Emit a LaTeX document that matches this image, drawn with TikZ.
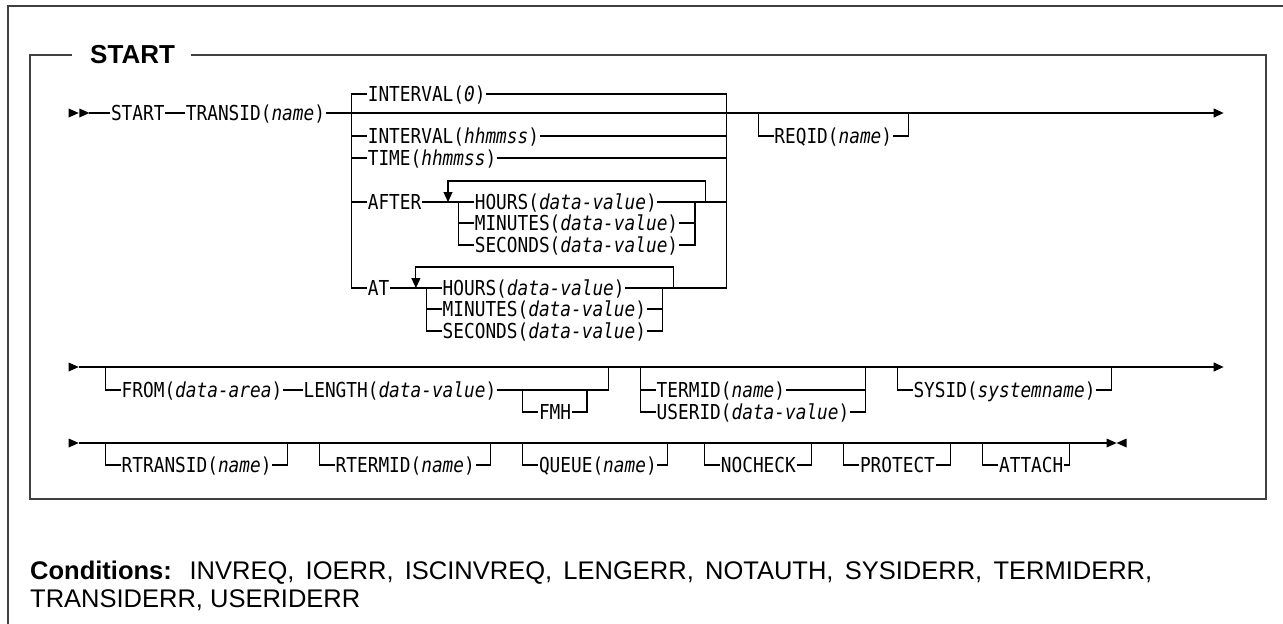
\documentclass[tikz,border=0pt]{standalone}
\usepackage{fontspec}
\setmainfont{Liberation Sans}
\newfontfamily\synfont[FakeStretch=0.863]{DejaVu Sans Mono}
\usetikzlibrary{arrows.meta}

\tikzset{
  syn/.style={font=\synfont\fontsize{20.6}{22}\selectfont, inner xsep=0.5pt, inner ysep=0pt,
    text height=15pt, text depth=0pt, anchor=west},
  rail/.style={line width=1.1pt},
  railend/.style={rail, -{Triangle[length=10pt,width=9pt]}},
  railloop/.style={rail, -{Triangle[length=10pt,width=9pt]}},
  frame/.style={line width=1.6pt, draw=black!75},
  tri r/.pic={\fill (0,0) -- (-10,-4.5) -- (-10,4.5) -- cycle;},
  tri l/.pic={\fill (0,0) -- (10,-4.5) -- (10,4.5) -- cycle;}
}

\begin{document}
\begin{tikzpicture}[x=1pt,y=-1pt]
 \useasboundingbox (0,0) rectangle (1283,624);
 \draw[frame] (8,624) -- (8,6) -- (1283,6);
 \node[font=\bfseries\fontsize{26}{30}\selectfont, inner sep=0pt, anchor=west] (ttl) at (90,55) {START};
 \draw[frame] ([xshift=-18pt]ttl.west) -- (30,55) -- (30,499) -- (1266,499) -- (1266,55) -- ([xshift=16pt]ttl.east);

 \pic at (78.7,113) {tri r};
 \pic at (89.4,113) {tri r};
 \coordinate (in1) at (89.4,113);
 \coordinate (out1) at (1223.6,113);
 \node[syn] (start) at (110.3,113) {START};
 \node[syn] (transid) at (185.2,113) {TRANSID(\textit{name})};
 \draw[rail] (in1) -- (start.west);
 \draw[rail] (start.east) -- (transid.west);
 \draw[railend] (transid.east) -- (out1);

 \coordinate (bxl) at (351.6,94);
 \coordinate (bxr) at (726.9,94);
 \node[syn] (int0) at (367.1,94) {INTERVAL(\textit{0})};
 \node[syn] (inthms) at (367.1,136) {INTERVAL(\textit{hhmmss})};
 \node[syn] (time) at (367.1,158) {TIME(\textit{hhmmss})};
 \node[syn] (aft) at (367.1,202) {AFTER};
 \node[syn] (atw) at (367.1,288) {AT};
 \draw[rail] (int0.west) -- (bxl) |- (atw.west);
 \draw[rail] (int0.east) -- (bxr) -- (bxr |- atw.west);
 \draw[rail] (inthms.west -| bxl) -- (inthms.west) (inthms.east) -- (inthms.east -| bxr);
 \draw[rail] (time.west -| bxl) -- (time.west) (time.east) -- (time.east -| bxr);
 \draw[rail] (aft.west -| bxl) -- (aft.west);

 \node[syn] (ahrs) at (474.1,202) {HOURS(\textit{data-value})};
 \node[syn] (amin) at (474.1,223) {MINUTES(\textit{data-value})};
 \node[syn] (asec) at (474.1,245) {SECONDS(\textit{data-value})};
 \coordinate (ail) at (458.7,202);
 \coordinate (air) at (695,202);
 \coordinate (alpl) at (448,181);
 \coordinate (alpr) at (705.7,181);
 \draw[rail] (aft.east) -- (ahrs.west);
 \draw[rail] (ahrs.east) -- (ahrs.east -| bxr);
 \draw[rail] (ail) |- (asec.west) (amin.west -| ail) -- (amin.west);
 \draw[rail] (asec.east) -| (air) (amin.east) -- (amin.east -| air);
 \draw[railloop] (alpr |- ahrs.east) -- (alpr) -- (alpl) -- (alpl |- ahrs.west);

 \node[syn] (thrs) at (442,288) {HOURS(\textit{data-value})};
 \node[syn] (tmin) at (442,309) {MINUTES(\textit{data-value})};
 \node[syn] (tsec) at (442,331) {SECONDS(\textit{data-value})};
 \coordinate (til) at (426.6,288);
 \coordinate (tir) at (662.9,288);
 \coordinate (tlpl) at (415.9,267);
 \coordinate (tlpr) at (673.6,267);
 \draw[rail] (atw.east) -- (thrs.west);
 \draw[rail] (thrs.east) -- (thrs.east -| bxr);
 \draw[rail] (til) |- (tsec.west) (tmin.west -| til) -- (tmin.west);
 \draw[rail] (tsec.east) -| (tir) (tmin.east) -- (tmin.east -| tir);
 \draw[railloop] (tlpr |- thrs.east) -- (tlpr) -- (tlpl) -- (tlpl |- thrs.west);

 \node[syn] (reqid) at (773.7,136) {REQID(\textit{name})};
 \coordinate (rql) at (758.2,113);
 \coordinate (rqr) at (908.7,113);
 \draw[rail] (rql) |- (reqid.west) (reqid.east) -| (rqr);

 \pic at (78.7,367) {tri r};
 \coordinate (in2) at (78.7,367);
 \coordinate (out2) at (1223.6,367);
 \draw[railend] (in2) -- (out2);
 \node[syn] (from) at (121,390) {FROM(\textit{data-area})};
 \node[syn] (lng) at (302.9,390) {LENGTH(\textit{data-value})};
 \node[syn] (fmh) at (538.3,412) {FMH};
 \coordinate (frl) at (105.5,367);
 \coordinate (frr) at (608.4,367);
 \coordinate (fml) at (522.8,390);
 \coordinate (fmr) at (587,390);
 \draw[rail] (frl) |- (from.west) (from.east) -- (lng.west) (lng.east) -| (frr);
 \draw[rail] (fml) |- (fmh.west) (fmh.east) -| (fmr);
 \node[syn] (termid) at (656,390) {TERMID(\textit{name})};
 \node[syn] (userid) at (656,412) {USERID(\textit{data-value})};
 \coordinate (tml) at (640.5,367);
 \coordinate (tmr) at (865.2,367);
 \draw[rail] (tml) |- (userid.west) (termid.west -| tml) -- (termid.west);
 \draw[rail] (userid.east) -| (tmr) (termid.east) -- (termid.east -| tmr);
 \node[syn] (sysid) at (912.8,390) {SYSID(\textit{systemname})};
 \coordinate (syl) at (897.3,367);
 \coordinate (syr) at (1111.2,367);
 \draw[rail] (syl) |- (sysid.west) (sysid.east) -| (syr);

 \pic at (78.7,443) {tri r};
 \coordinate (in3) at (78.7,443);
 \coordinate (out3) at (1106.6,443);
 \draw[rail] (in3) -- (out3);
 \pic at (1116.6,443) {tri r};
 \pic at (1116.6,443) {tri l};
 \node[syn] (rtransid) at (121,465) {RTRANSID(\textit{name})};
 \coordinate (rtl) at (105.5,443);
 \coordinate (rtr) at (287.4,443);
 \draw[rail] (rtl) |- (rtransid.west) (rtransid.east) -| (rtr);
 \node[syn] (rtermid) at (335,465) {RTERMID(\textit{name})};
 \coordinate (rml) at (319.5,443);
 \coordinate (rmr) at (490.7,443);
 \draw[rail] (rml) |- (rtermid.west) (rtermid.east) -| (rmr);
 \node[syn] (queue) at (538.3,465) {QUEUE(\textit{name})};
 \coordinate (qul) at (522.8,443);
 \coordinate (qur) at (667.6,443);
 \draw[rail] (qul) |- (queue.west) (queue.east) -| (qur);
 \node[syn] (nocheck) at (720.2,465) {NOCHECK};
 \coordinate (ncl) at (704.7,443);
 \coordinate (ncr) at (811.7,443);
 \draw[rail] (ncl) |- (nocheck.west) (nocheck.east) -| (ncr);
 \node[syn] (protect) at (859.3,465) {PROTECT};
 \coordinate (prl) at (843.8,443);
 \coordinate (prr) at (950.8,443);
 \draw[rail] (prl) |- (protect.west) (protect.east) -| (prr);
 \node[syn] (attach) at (998.4,465) {ATTACH};
 \coordinate (atl) at (982.9,443);
 \coordinate (atr) at (1069.2,443);
 \draw[rail] (atl) |- (attach.west) (attach.east) -| (atr);

 \node[anchor=north west, align=left, inner sep=0pt, font=\fontsize{25.5}{27.5}\selectfont] (cond) at (30,561)
   {\makebox[1122pt][s]{\textbf{Conditions:} INVREQ, IOERR, ISCINVREQ, LENGERR, NOTAUTH, SYSIDERR, TERMIDERR,}\\TRANSIDERR, USERIDERR};
\end{tikzpicture}
\end{document}
